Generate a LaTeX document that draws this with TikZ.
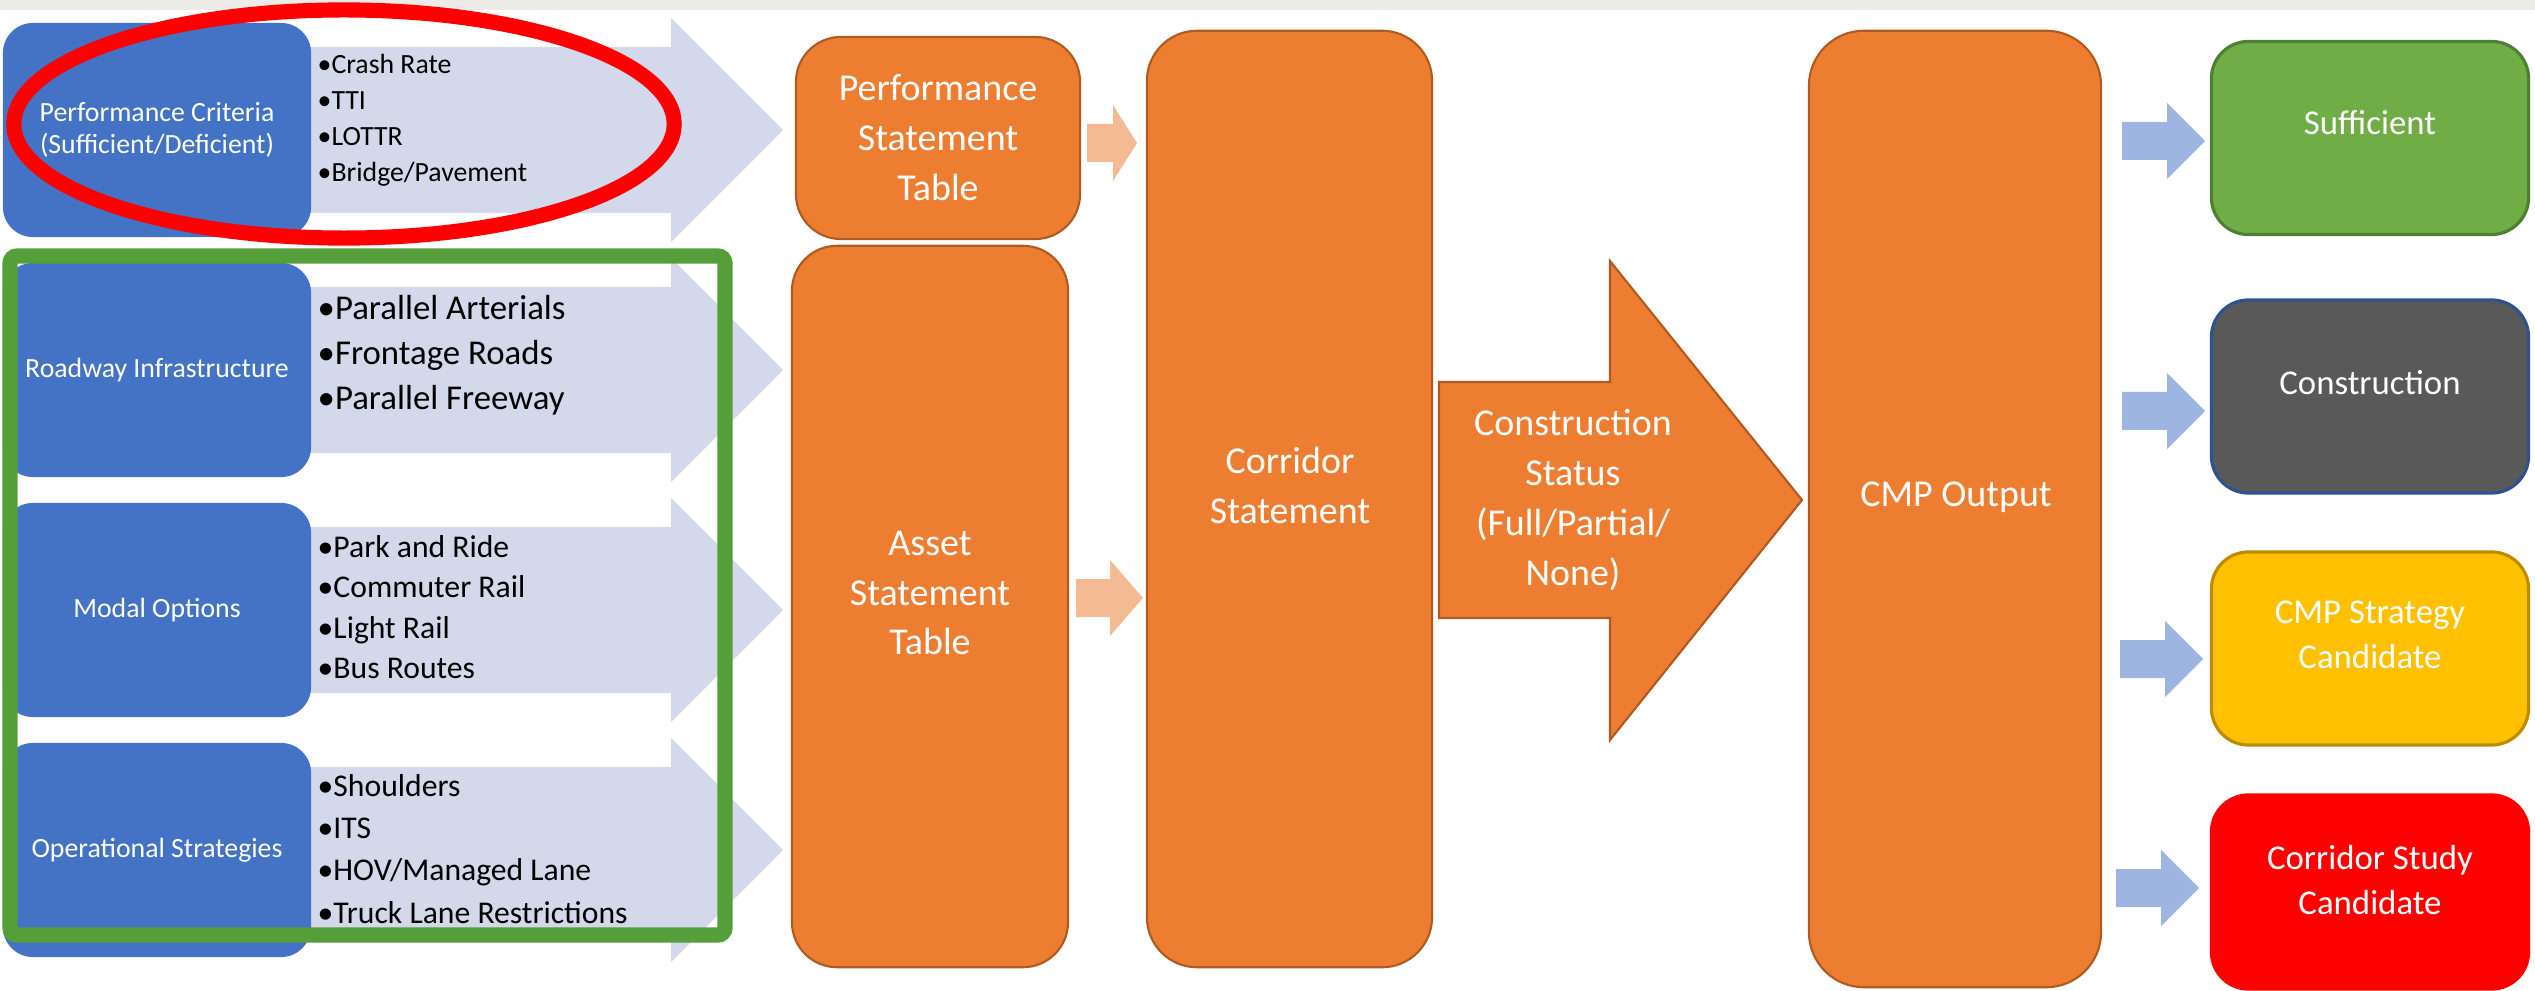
\documentclass[tikz,border=0pt]{standalone}
\usepackage{fontspec}
\setmainfont{Carlito}

\definecolor{critblue}{HTML}{4472C4}
\definecolor{lavender}{HTML}{D3D8EA}
\definecolor{cmporange}{HTML}{ED7D31}
\definecolor{cmpedge}{HTML}{AE5A21}
\definecolor{peach}{HTML}{F4BA94}
\definecolor{outblue}{HTML}{9DB5E0}
\definecolor{suffgreen}{HTML}{70AD47}
\definecolor{suffedge}{HTML}{507E32}
\definecolor{constgray}{HTML}{595959}
\definecolor{constedge}{HTML}{2F528F}
\definecolor{stratyellow}{HTML}{FFC000}
\definecolor{stratedge}{HTML}{BC8C00}
\definecolor{studyred}{HTML}{FF0000}
\definecolor{framegreen}{HTML}{559E3A}
\definecolor{ringred}{HTML}{FF0000}
\definecolor{topband}{HTML}{EDEBE5}

\begin{document}
\begin{tikzpicture}[x=0.01cm, y=-0.01cm,
    critbox/.style={fill=critblue, rounded corners=0.3cm, minimum width=3.08cm,
        minimum height=2.14cm, inner sep=0pt, text=white, align=center,
        font=\fontsize{7.9}{9.1}\selectfont},
    stmtbox/.style={fill=cmporange, draw=cmpedge, line width=0.6pt, inner sep=0pt},
    stmttext/.style={text=white, align=center, inner sep=0pt,
        font=\fontsize{10.8}{14.2}\selectfont},
    outbox/.style={line width=0.9pt, rounded corners=0.37cm, minimum width=3.17cm,
        minimum height=1.93cm, inner sep=0pt},
    outtext/.style={text=white, align=center, inner sep=0pt,
        font=\fontsize{9.9}{12.8}\selectfont},
    bullets/.style={anchor=west, align=left, inner sep=0pt}
]
    \useasboundingbox (0,0) rectangle (2535,991);
    \fill[topband] (0,0) rectangle (2535,10);

    % input arrows behind the criteria boxes
    \foreach \yc in {130,370,610,850}
    {
        \fill[lavender] (200,\yc-83) -- (671,\yc-83) -- (671,\yc-112) -- (783,\yc)
            -- (671,\yc+112) -- (671,\yc+83) -- (200,\yc+83) -- cycle;
    }

    \node[critbox] (perf) at (157,130) {Performance Criteria\\(Sufficient/Deficient)};
    \node[critbox] (road) at (157,370) {Roadway Infrastructure};
    \node[critbox] (modal) at (157,610) {Modal Options};
    \node[critbox] (oper) at (157,850) {Operational Strategies};

    \node[bullets, font=\fontsize{7.9}{10.2}\selectfont] (perflist) at (317,120)
        {\textbullet Crash Rate\\\textbullet TTI\\\textbullet LOTTR\\\textbullet Bridge/Pavement};
    \node[bullets, font=\fontsize{9.9}{12.8}\selectfont] (roadlist) at (317,355)
        {\textbullet Parallel Arterials\\\textbullet Frontage Roads\\\textbullet Parallel Freeway};
    \node[bullets, font=\fontsize{9}{11.5}\selectfont] (modallist) at (317,607)
        {\textbullet Park and Ride\\\textbullet Commuter Rail\\\textbullet Light Rail\\\textbullet Bus Routes};
    \node[bullets, font=\fontsize{9}{12}\selectfont] (operlist) at (317,849)
        {\textbullet Shoulders\\\textbullet ITS\\\textbullet HOV/Managed Lane\\\textbullet Truck Lane Restrictions};

    % statement tables
    \node[stmtbox, stmttext, rounded corners=0.45cm, minimum width=2.84cm,
        minimum height=2.02cm] (pst) at (938,138) {Performance\\Statement\\Table};
    \node[stmtbox, rounded corners=0.45cm, minimum width=2.76cm,
        minimum height=7.21cm] (asset) at (930,606.5) {};
    \node[stmttext] (assettxt) at (930,593) {Asset\\Statement\\Table};
    \node[stmtbox, rounded corners=0.5cm, minimum width=2.85cm,
        minimum height=9.36cm] (corr) at (1289.5,499) {};
    \node[stmttext] (corrtxt) at (1290,485) {Corridor\\Statement};

    % small arrows into the corridor statement
    \foreach \xa/\xb/\xt/\yc in {1087/1113/1137/143, 1076/1110/1143/598}
    {
        \fill[peach] (\xa,\yc-19) -- (\xb,\yc-19) -- (\xb,\yc-38) -- (\xt,\yc)
            -- (\xb,\yc+38) -- (\xb,\yc+19) -- (\xa,\yc+19) -- cycle;
    }

    \filldraw[fill=cmporange, draw=cmpedge, line width=0.6pt]
        (1439,382) -- (1610,382) -- (1610,261) -- (1802,500)
        -- (1610,740) -- (1610,618) -- (1439,618) -- cycle;
    \node[stmttext] (status) at (1573,500) {Construction\\Status\\(Full/Partial/\\None)};

    \node[stmtbox, rounded corners=0.55cm, minimum width=2.92cm,
        minimum height=9.56cm] (cmp) at (1955,509) {};
    \node[stmttext] (cmptxt) at (1956,497) {CMP Output};

    % arrows out of the CMP output
    \foreach \xa/\yc in {2122/141, 2122/411, 2120/659, 2116/888}
    {
        \fill[outblue] (\xa,\yc-19) -- (\xa+45,\yc-19) -- (\xa+45,\yc-38) -- (\xa+83,\yc)
            -- (\xa+45,\yc+38) -- (\xa+45,\yc+19) -- (\xa,\yc+19) -- cycle;
    }

    \node[outbox, fill=suffgreen, draw=suffedge] (suff) at (2370,138) {};
    \node[outtext] (sufftxt) at (2370,123) {Sufficient};
    \node[outbox, fill=constgray, draw=constedge] (const) at (2370,396.5) {};
    \node[outtext] (consttxt) at (2370,383) {Construction};
    \node[outbox, fill=stratyellow, draw=stratedge] (strat) at (2370,648.5) {};
    \node[outtext] (strattxt) at (2370,635) {CMP Strategy\\Candidate};
    \node[outbox, fill=studyred, draw=studyred, minimum height=1.94cm] (study) at (2370,892) {};
    \node[outtext] (studytxt) at (2370,880) {Corridor Study\\Candidate};

    % highlight marks
    \draw[framegreen, line width=4.3pt, rounded corners=2pt] (10,256) rectangle (725,935);
    \draw[ringred, line width=4.3pt] (344,124) ellipse [x radius=3.3cm, y radius=1.14cm];

\end{tikzpicture}
\end{document}
